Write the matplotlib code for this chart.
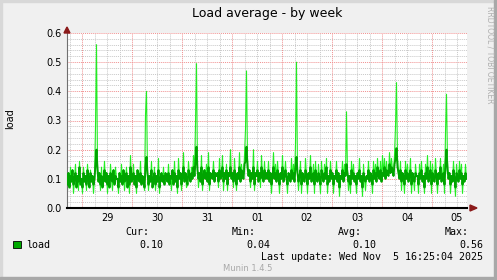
import numpy as np
import matplotlib
matplotlib.use('Agg')
import matplotlib.pyplot as plt
from matplotlib.patches import Rectangle, Polygon

plt.rcParams['path.simplify'] = False

W, H = 497, 280

# load values in hundredths, one sample per 30 min (400 samples = 8 days)
avg_load = [
    8,12,7,11,9,13,8,10,12,7,11,9,14,8,10,7,12,9,11,8,13,10,7,12,9,11,8,10,15,20,13,9,12,8,11,7,10,13,9,12,8,11,7,12,10,9,13,8,11,10,
    10,7,12,9,11,8,13,9,10,12,7,11,8,14,9,10,12,8,11,7,13,10,9,12,8,11,10,7,14,17.5,12,8,11,9,13,7,10,12,8,11,9,13,7,10,12,9,11,8,12,10,
    9,12,8,11,10,13,8,12,9,11,7,13,10,12,8,11,14,9,12,10,8,13,11,9,12,10,14,11,16,21,13,10,12,9,14,8,11,13,10,12,9,14,8,12,11,10,13,9,12,11,
    12,9,13,10,11,14,9,12,10,13,8,12,11,14,10,12,9,13,11,8,12,10,14,9,13,11,10,15,16,21,14,11,13,9,12,10,14,8,12,11,13,9,12,10,14,11,9,13,10,12,
    10,13,9,12,8,11,14,10,12,9,13,11,8,12,10,14,9,11,13,10,8,12,11,9,13,10,12,9,14,17.5,12,9,11,13,8,12,10,9,13,11,8,12,10,14,9,11,12,8,13,10,
    9,12,10,8,13,11,9,12,10,14,8,11,9,13,10,12,8,11,10,13,9,12,7,11,10,13,9,12,11,15,12,9,11,8,13,10,12,9,11,8,12,10,13,9,11,7,12,10,9,11,
    10,13,9,12,11,8,13,10,12,9,14,11,10,13,9,12,11,14,10,13,12,11,15,12,14,13,11,15,17,20.5,14,12,10,13,9,12,11,8,13,10,12,9,11,13,8,12,10,9,12,11,
    11,8,12,10,13,9,11,7,12,10,14,9,11,13,8,12,10,9,13,11,8,12,10,14,9,11,12,8,15,20,13,10,12,8,11,9,13,10,7,12,11,9,13,10,12,8,11,9,12,10,
]
max_load = [
    6,12,7,14,9,13,5,10,15,7,11,6,16,8,10,5,14,9,11,6,15,10,7,13,9,11,5,10,28,56,15,9,12,6,14,7,10,16,9,12,5,11,7,15,10,6,13,8,14,10,
    10,5,12,9,15,8,13,6,10,14,7,11,5,18,9,10,15,8,11,5,13,10,9,16,8,11,10,6,32,40,12,6,11,9,16,7,10,14,6,11,9,17,5,10,12,9,14,8,12,10,
    9,15,8,11,6,13,8,16,9,11,5,17,10,12,6,11,19,9,12,7,8,16,11,9,14,10,18,11,29,49.5,13,7,12,9,18,6,11,13,10,15,9,19,6,12,11,10,16,9,12,11,
    12,7,17,10,11,18,6,12,10,15,6,12,11,20,10,12,7,17,11,6,12,10,19,9,15,11,10,18,27,47,17,11,13,7,12,10,20,6,12,11,16,9,12,7,18,11,9,16,10,12,
    10,16,9,12,5,11,19,10,15,9,16,11,5,12,10,18,9,11,16,10,5,12,11,9,17,10,15,9,22,50,12,6,11,16,5,12,10,9,17,11,5,12,10,18,9,11,15,5,16,10,
    9,15,10,5,16,11,9,15,10,17,5,11,9,16,10,12,5,11,10,16,9,12,4,11,10,16,9,15,11,33,12,6,11,5,16,10,15,9,11,5,12,10,17,9,11,4,15,10,6,11,
    10,16,9,12,11,5,16,10,15,9,17,11,10,16,9,18,11,17,10,16,12,11,19,12,17,13,11,18,28,43,17,12,10,16,6,12,11,5,16,10,15,9,11,17,5,12,10,6,15,11,
    11,5,15,10,16,9,11,5,15,10,18,9,11,16,5,15,10,9,17,11,5,12,10,17,9,11,15,5,26,39,16,10,12,5,11,9,16,10,4,15,11,9,16,10,15,5,11,9,15,10,
]
day_labels = ['29', '30', '31', '01', '02', '03', '04', '05']
yticks = [0.0, 0.1, 0.2, 0.3, 0.4, 0.5, 0.6]
stat_names = ['Cur:', 'Min:', 'Avg:', 'Max:']
stat_values = ['0.10', '0.04', '0.10', '0.56']

avg = np.array(avg_load) / 100.0
mx = np.array(max_load) / 100.0
# time axis in days since Oct 29 00:00, 50 px per day
t = -0.3 + (np.arange(len(avg)) + 0.5) / 50.0

def fx(x):
    return x / W

def fy(y):
    return 1 - y / H

fig = plt.figure(figsize=(W / 100, H / 100), dpi=100)
fig.patch.set_facecolor('#f0f0f0')

# 3d frame
fig.patches.append(Rectangle((0, fy(2)), 1, 2 / H, transform=fig.transFigure, color='#d8d8d8', zorder=0))
fig.patches.append(Rectangle((0, 0), 2 / W, 1, transform=fig.transFigure, color='#d8d8d8', zorder=0))
fig.patches.append(Rectangle((0, 0), 1, 3 / H, transform=fig.transFigure, color='#a8a8a8', zorder=0))
fig.patches.append(Rectangle((fx(494), 0), 3 / W, 1, transform=fig.transFigure, color='#a8a8a8', zorder=0))

ax = fig.add_axes([fx(67), fy(208), fx(400), 175 / H])
ax.set_facecolor('white')
ax.set_xlim(-0.3, 7.7)
ax.set_ylim(0, 0.6)

# grid
for v in np.arange(0.02, 0.6, 0.02):
    if abs(v * 10 - round(v * 10)) > 1e-6:
        ax.axhline(v, color='#c8c8c8', lw=0.7, dashes=(1, 1), zorder=1)
for v in yticks[1:]:
    ax.axhline(v, color='#f09090', lw=0.7, dashes=(1, 1), zorder=1)
for d in np.arange(-0.25, 7.7, 0.25):
    if abs(d - round(d)) > 1e-6:
        ax.axvline(d, color='#c8c8c8', lw=0.7, dashes=(1, 1), zorder=1)
for d in range(0, 8):
    ax.axvline(d, color='#f09090', lw=0.7, dashes=(1, 1), zorder=1)

ax.plot(t, mx, color='#22ee22', lw=0.8, zorder=2)
ax.plot(t, avg, color='#00a400', lw=1.4, zorder=3)

ax.set_yticks(yticks)
ax.set_yticklabels(['%.1f' % v for v in yticks])
ax.set_xticks(np.arange(0.5, 8, 1.0))
ax.set_xticklabels(day_labels)
ax.tick_params(length=0, labelsize=7, colors='black')
ax.tick_params(axis='y', pad=3.6)
ax.tick_params(axis='x', pad=3.6)
for s in ['top', 'right']:
    ax.spines[s].set_visible(False)
ax.spines['left'].set_color('#707070')
ax.spines['left'].set_linewidth(0.8)
ax.spines['bottom'].set_color('black')
ax.spines['bottom'].set_linewidth(1.5)
ax.spines['bottom'].set_zorder(5)

# axis arrows
fig.patches.append(Polygon([(fx(64), fy(33)), (fx(70), fy(33)), (fx(67), fy(27))],
                           closed=True, transform=fig.transFigure, color='#8b1a1a', zorder=6))
fig.patches.append(Polygon([(fx(470), fy(205)), (fx(470), fy(211)), (fx(477), fy(208))],
                           closed=True, transform=fig.transFigure, color='#8b1a1a', zorder=6))

fig.text(fx(267), fy(13), 'Load average - by week', ha='center', va='center', fontsize=9)
fig.text(fx(10), fy(119), 'load', rotation=90, ha='center', va='center', fontsize=7)
fig.text(fx(490), fy(6), 'RRDTOOL / TOBI OETIKER', rotation=270, ha='center', va='top',
         fontsize=5.5, color='#b0b0b0')

mono = 'DejaVu Sans Mono'
fig.patches.append(Rectangle((fx(13), fy(248)), 8 / W, 7 / H, transform=fig.transFigure,
                             facecolor='#00aa00', edgecolor='black', lw=0.6, zorder=6))
fig.text(fx(26), fy(244.5), 'load', ha='left', va='center', fontsize=7.2, family=mono)
name_x = [149, 256, 362, 469]
val_x = [163, 270, 376, 483]
for nm, vl, xn, xv in zip(stat_names, stat_values, name_x, val_x):
    fig.text(fx(xn), fy(232), nm, ha='right', va='center', fontsize=7.2, family=mono)
    fig.text(fx(xv), fy(244.5), vl, ha='right', va='center', fontsize=7.2, family=mono)
fig.text(fx(483), fy(257), 'Last update: Wed Nov  5 16:25:04 2025', ha='right', va='center',
         fontsize=7.2, family=mono)
fig.text(fx(248), fy(268.5), 'Munin 1.4.5', ha='center', va='center', fontsize=6, color='#a8a8a8')

fig.savefig('out.png', dpi=100, facecolor=fig.get_facecolor())
